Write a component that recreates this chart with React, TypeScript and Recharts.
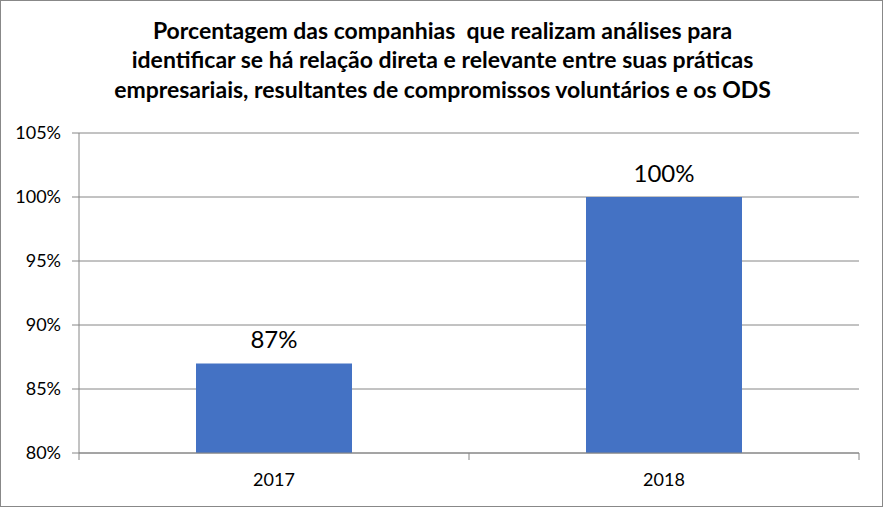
import React from "react";
import { BarChart, Bar, XAxis, YAxis, CartesianGrid, LabelList } from "recharts";

const years = ["2017", "2018"];
const shares = [0.87, 1.0];
const yTicks = [0.8, 0.85, 0.9, 0.95, 1.0, 1.05];
const titleLines = [
  "Porcentagem das companhias  que realizam análises para",
  "identificar se há relação direta e relevante entre suas práticas",
  "empresariais, resultantes de compromissos voluntários e os ODS",
];

const data = years.map((year, i) => ({ year, share: shares[i] }));

const AXIS = "#868686";
const FONT = "Lato, 'Open Sans', sans-serif";
const pct = (v: number) => `${Math.round(v * 100)}%`;

// category axis: Excel puts the tick marks on the band edges, not the centres
const YearTick = (props: any) => {
  const { x, y, payload, index, visibleTicksCount } = props;
  const half = payload.offset || 195;
  return (
    <g>
      <line x1={x - half} x2={x - half} y1={y} y2={y + 7} stroke={AXIS} />
      {index === visibleTicksCount - 1 && (
        <line x1={x + half} x2={x + half} y1={y} y2={y + 7} stroke={AXIS} />
      )}
      <text x={x} y={y + 33} textAnchor="middle" fontSize={18} fontFamily={FONT} fill="#000">
        {payload.value}
      </text>
    </g>
  );
};

export default function App() {
  return (
    <div
      style={{
        position: "absolute",
        left: 0,
        top: 0,
        width: 883,
        height: 507,
        background: "#fff",
        border: "1px solid #888",
        boxSizing: "border-box",
      }}
    >
      <div
        style={{
          position: "absolute",
          left: 0,
          top: 14.5,
          width: 883,
          textAlign: "center",
          fontFamily: FONT,
          fontWeight: 700,
          fontSize: 23,
          lineHeight: "29.5px",
          color: "#000",
          whiteSpace: "pre",
        }}
      >
        {titleLines.map((t) => (
          <div key={t}>{t}</div>
        ))}
      </div>
      <BarChart
        width={881}
        height={505}
        data={data}
        margin={{ top: 133, right: 22, bottom: 22, left: 0 }}
        barCategoryGap="30%"
        style={{ position: "absolute", left: -1, top: -1 }}
      >
        <CartesianGrid vertical={false} stroke={AXIS} />
        <XAxis
          dataKey="year"
          height={30}
          stroke={AXIS}
          tickSize={0}
          tickMargin={0}
          tick={<YearTick />}
        />
        <YAxis
          width={79}
          domain={[0.8, 1.05]}
          ticks={yTicks}
          tickFormatter={pct}
          stroke={AXIS}
          tickSize={7}
          tickMargin={11}
          tick={{ fill: "#000", fontSize: 18, fontFamily: FONT }}
        />
        <Bar dataKey="share" fill="#4472C4" isAnimationActive={false}>
          <LabelList
            dataKey="share"
            position="top"
            offset={15}
            formatter={(v: any) => pct(Number(v))}
            fill="#000"
            fontSize={24}
            fontFamily={FONT}
          />
        </Bar>
      </BarChart>
    </div>
  );
}
